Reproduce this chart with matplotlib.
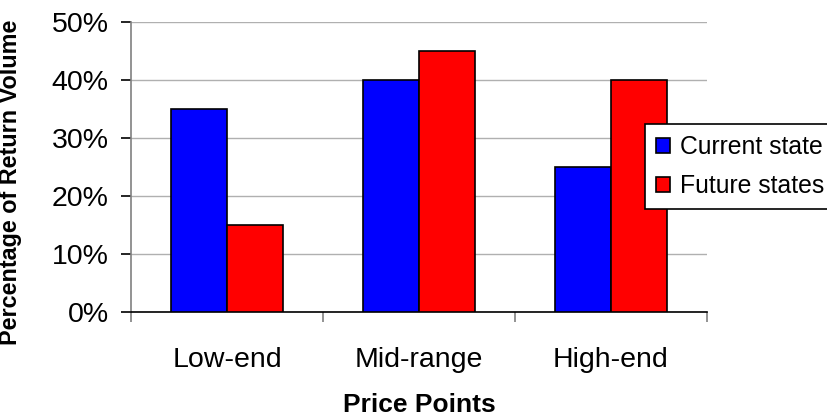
import numpy as np
import matplotlib
matplotlib.use("Agg")
from matplotlib import pyplot as plt
from matplotlib.ticker import FuncFormatter

plt.rcParams['font.family'] = ['Liberation Sans', 'DejaVu Sans']

categories = ['Low-end', 'Mid-range', 'High-end']
current_state = [35, 40, 25]
future_states = [15, 45, 40]
series_names = ['Current state', 'Future states']

fig = plt.figure(figsize=(8.28, 4.18), dpi=100)
ax = fig.add_axes([131/828, 1 - 312/418, 576/828, 290/418])

x = np.arange(len(categories)) + 0.5
w = 0.29
ax.bar(x - w/2, current_state, w, color='#0000ff', edgecolor='black', linewidth=1.2,
       label=series_names[0], zorder=3)
ax.bar(x + w/2, future_states, w, color='#ff0000', edgecolor='black', linewidth=1.2,
       label=series_names[1], zorder=3)

ax.set_xlim(0, len(categories))
ax.set_ylim(0, 50)
ax.set_yticks(np.arange(0, 51, 10))
ax.yaxis.set_major_formatter(FuncFormatter(lambda v, p: '%d%%' % v))
ax.yaxis.grid(True, color='#b0b0b0', linewidth=1, zorder=0)

# category boundaries as major ticks, names on minor ticks
ax.set_xticks(np.arange(len(categories) + 1))
ax.set_xticklabels([])
ax.set_xticks(x, minor=True)
ax.set_xticklabels(categories, minor=True)
ax.tick_params(axis='x', which='major', direction='out', length=7, color='#808080', width=1.2)
ax.tick_params(axis='x', which='minor', length=0, pad=25, labelsize=20.5)
ax.tick_params(axis='y', direction='out', length=7, color='black', width=1.2, pad=9,
               labelsize=20.5)

for s in ['top', 'right']:
    ax.spines[s].set_visible(False)
ax.spines['left'].set_color('#808080')
ax.spines['left'].set_linewidth(1.2)
ax.spines['bottom'].set_color('black')
ax.spines['bottom'].set_linewidth(1.2)

fig.text(419/828, 1 - 405/418, 'Price Points', ha='center', va='center',
         fontsize=19, fontweight='bold')
fig.text(11/828, 1 - 182/418, 'Percentage of Return Volume', ha='center', va='center',
         rotation=90, fontsize=16.8, fontweight='bold')

leg = fig.legend(loc='upper left', bbox_to_anchor=(645/828, 1 - 124/418), fontsize=17.8,
                 frameon=True, fancybox=False, shadow=False, framealpha=1,
                 borderpad=0.45, handlelength=0.55, handleheight=0.55, handletextpad=0.4,
                 labelspacing=0.6, borderaxespad=0)
leg.get_frame().set_edgecolor('black')
leg.get_frame().set_linewidth(1.2)

fig.savefig('out.png', dpi=100)
